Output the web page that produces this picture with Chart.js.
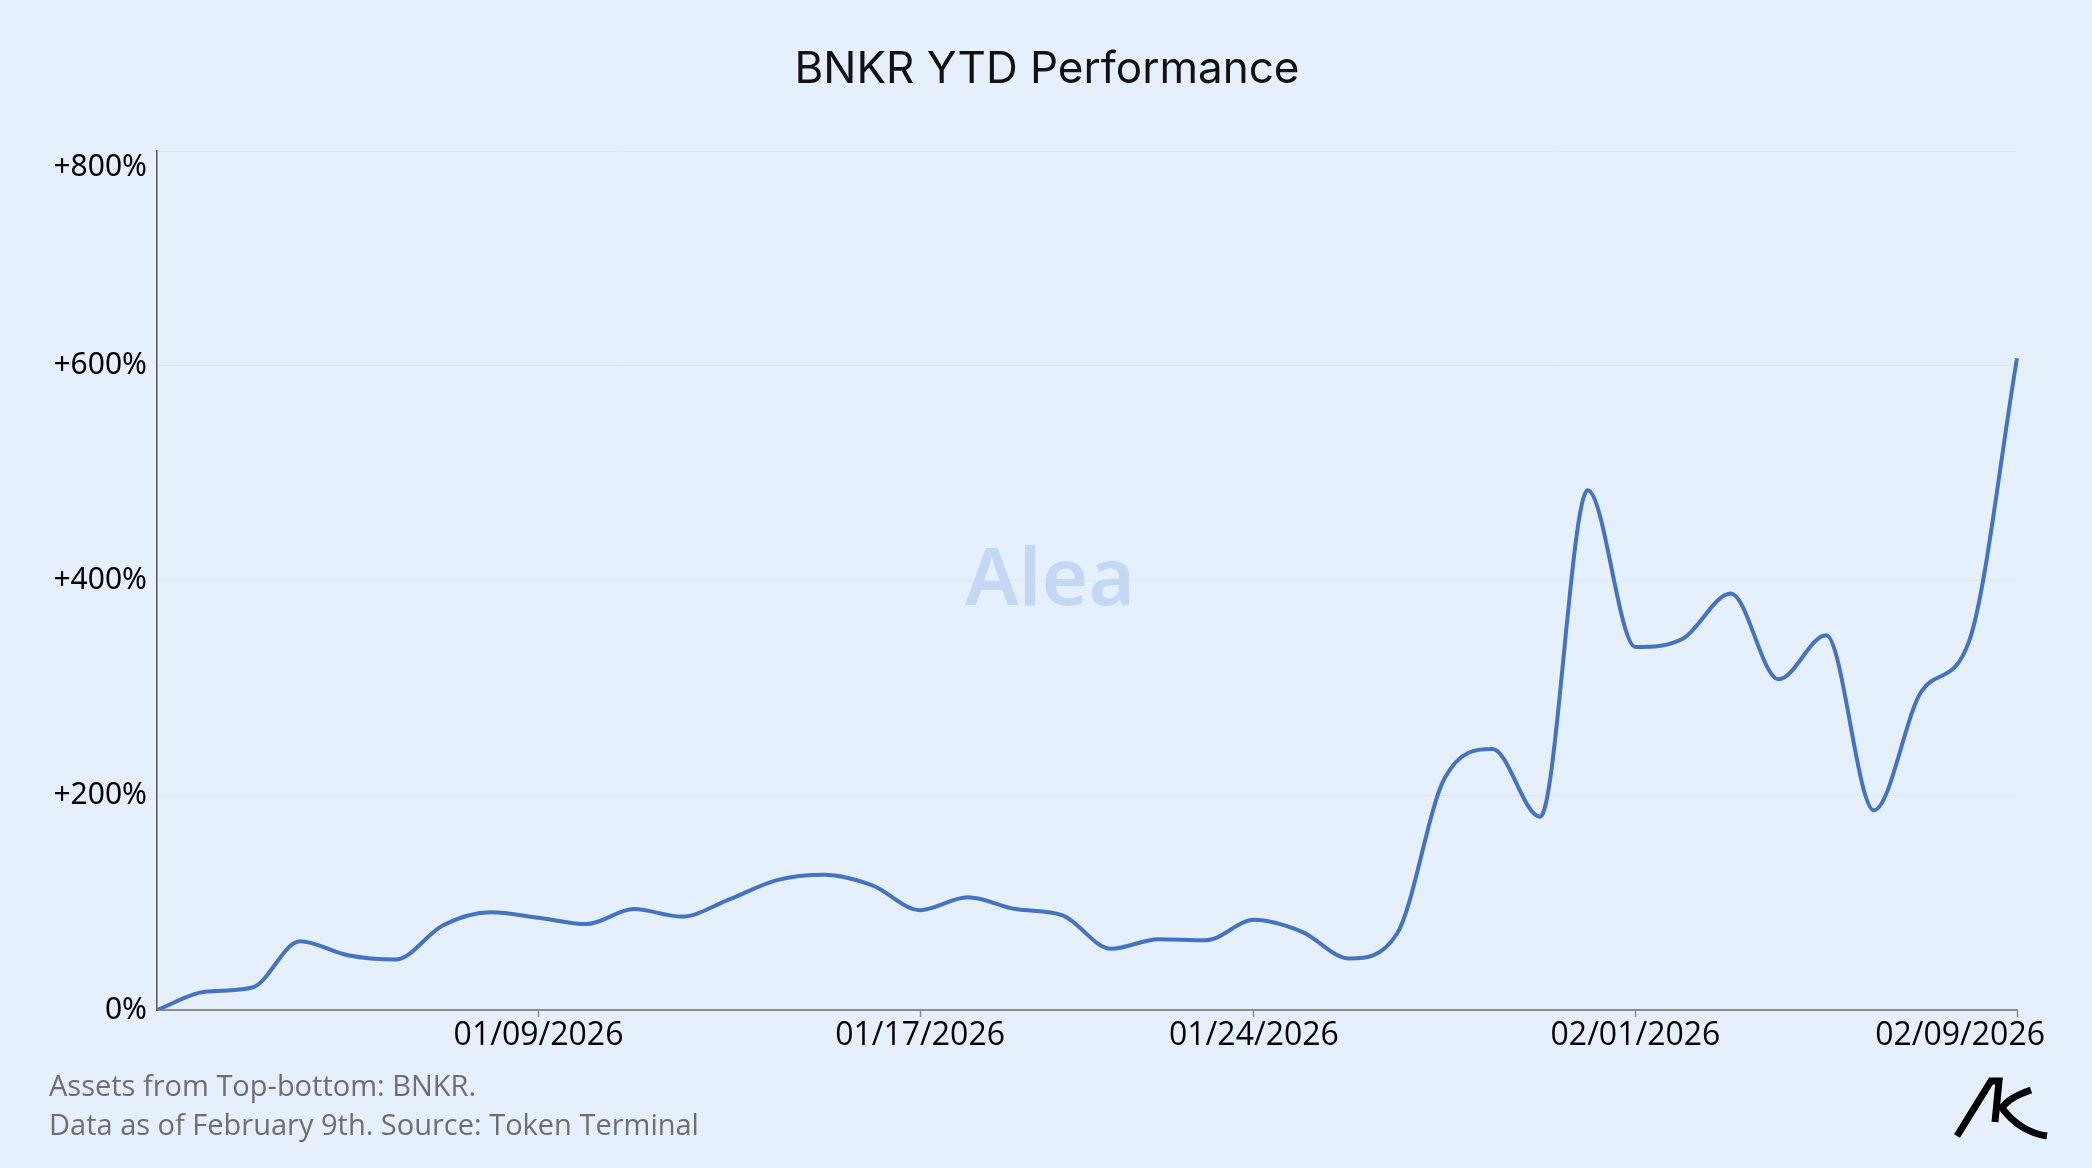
<!DOCTYPE html>
<html>
<head>
<meta charset="utf-8">
<script src="https://cdn.jsdelivr.net/npm/chart.js@4.4.1/dist/chart.umd.min.js"></script>
<style>
  html, body { margin: 0; padding: 0; background: #e6f0fc; }
  #wrap { position: relative; width: 2092px; height: 1168px; }
</style>
</head>
<body>
<div id="wrap"><canvas id="chart"></canvas></div>
<script>
const dates = [
  "01/01/2026","01/02/2026","01/03/2026","01/04/2026","01/05/2026","01/06/2026","01/07/2026","01/08/2026",
  "01/09/2026","01/10/2026","01/11/2026","01/12/2026","01/13/2026","01/14/2026","01/15/2026","01/16/2026",
  "01/17/2026","01/18/2026","01/19/2026","01/20/2026","01/21/2026","01/22/2026","01/23/2026","01/24/2026",
  "01/25/2026","01/26/2026","01/27/2026","01/28/2026","01/29/2026","01/30/2026","01/31/2026","02/01/2026",
  "02/02/2026","02/03/2026","02/04/2026","02/05/2026","02/06/2026","02/07/2026","02/08/2026","02/09/2026"
];
// BNKR performance, % since Jan 1
const bnkr = [
  0, 17, 21, 64, 51, 47, 79, 91, 86, 80, 94, 87, 103, 121, 126, 116, 93, 105, 94, 88,
  57, 66, 65, 84, 73, 48, 71, 216, 243, 180, 484, 338, 346, 388, 308, 349, 186, 297, 344, 607
];
const tickDates = ["01/09/2026", "01/17/2026", "01/24/2026", "02/01/2026", "02/09/2026"];
const yTicks = [0, 200, 400, 600, 800];

const titleText = "BNKR YTD Performance";
const notes = ["Assets from Top-bottom: BNKR.", "Data as of February 9th. Source: Token Terminal"];

const extras = {
  id: "extras",
  beforeDraw(chart) {
    // keep last date label inside the canvas, like the original
    const items = chart.scales.x.getLabelItems();
    const last = items[items.length - 1];
    if (last) {
      last.options.textAlign = "right";
      last.options.translation[0] = 2045;
    }
    // top y label sits a bit lower than its gridline
    const yItems = chart.scales.y.getLabelItems();
    const top = yItems[yItems.length - 1];
    if (top) top.options.translation[1] += 16;
  },
  beforeDatasetsDraw(chart) {
    const ctx = chart.ctx;
    ctx.save();
    ctx.font = "600 80px 'Noto Sans'";
    ctx.fillStyle = "rgb(196,216,246)";
    ctx.textAlign = "center";
    ctx.textBaseline = "middle";
    ctx.fillText("Alea", 1050, 582);
    ctx.restore();
  },
  afterDraw(chart) {
    const ctx = chart.ctx;
    ctx.save();
    ctx.fillStyle = "#111";
    ctx.font = "44px Inter";
    ctx.textAlign = "center";
    ctx.textBaseline = "middle";
    ctx.fillText(titleText, 1047, 70);

    ctx.fillStyle = "#6e6e6e";
    ctx.font = "29px 'Open Sans'";
    ctx.textAlign = "left";
    ctx.fillText(notes[0], 49, 1088);
    ctx.fillText(notes[1], 49, 1127);

    // logo
    ctx.strokeStyle = "#000";
    ctx.lineWidth = 7;
    ctx.lineJoin = "miter";
    ctx.beginPath();
    ctx.moveTo(1957, 1136);
    ctx.lineTo(1991, 1081);
    ctx.lineTo(1999, 1081);
    ctx.lineTo(1995, 1122);
    ctx.stroke();
    ctx.beginPath();
    ctx.moveTo(2031, 1090);
    ctx.quadraticCurveTo(2008, 1098, 2002, 1108);
    ctx.quadraticCurveTo(2020, 1132, 2047, 1136);
    ctx.stroke();
    ctx.restore();
  }
};

const ctx = document.getElementById("chart").getContext("2d");
const chart = new Chart(ctx, {
  type: "line",
  data: {
    labels: dates,
    datasets: [{
      label: "BNKR",
      data: bnkr,
      borderColor: "#4472c4",
      borderWidth: 4,
      pointRadius: 0,
      fill: false,
      cubicInterpolationMode: "monotone"
    }]
  },
  options: {
    responsive: true,
    maintainAspectRatio: false,
    animation: false,
    layout: { padding: { top: 151, right: 75, left: 0, bottom: 0 } },
    plugins: { legend: { display: false }, tooltip: { enabled: false } },
    scales: {
      x: {
        type: "category",
        afterBuildTicks(scale) {
          scale.ticks = scale.ticks.filter(t => tickDates.includes(dates[t.value]));
        },
        afterFit(scale) {
          scale.height = 158;
          scale.paddingLeft = 0;
          scale.paddingRight = 0;
        },
        border: { color: "#8c8c8c", width: 2 },
        grid: { drawOnChartArea: false, drawTicks: true, tickLength: 7, tickColor: "#8c8c8c", tickWidth: 1.5 },
        ticks: {
          autoSkip: false,
          maxRotation: 0,
          padding: 3,
          color: "#000",
          font: { family: "'Open Sans'", size: 32, lineHeight: 1 }
        }
      },
      y: {
        min: 0,
        max: 800,
        afterBuildTicks(scale) {
          scale.ticks = yTicks.map(v => ({ value: v }));
        },
        afterFit(scale) {
          scale.width = 157;
          scale.paddingTop = 0;
          scale.paddingBottom = 0;
        },
        border: { color: "#555", width: 1.5 },
        grid: { color: "rgba(214,222,236,0.55)", lineWidth: 1, drawTicks: false },
        ticks: {
          padding: 10,
          color: "#000",
          font: { family: "'Noto Sans'", size: 30 },
          callback: v => (v === 0 ? "0%" : "+" + v + "%")
        }
      }
    }
  },
  plugins: [extras]
});
</script>
</body>
</html>
